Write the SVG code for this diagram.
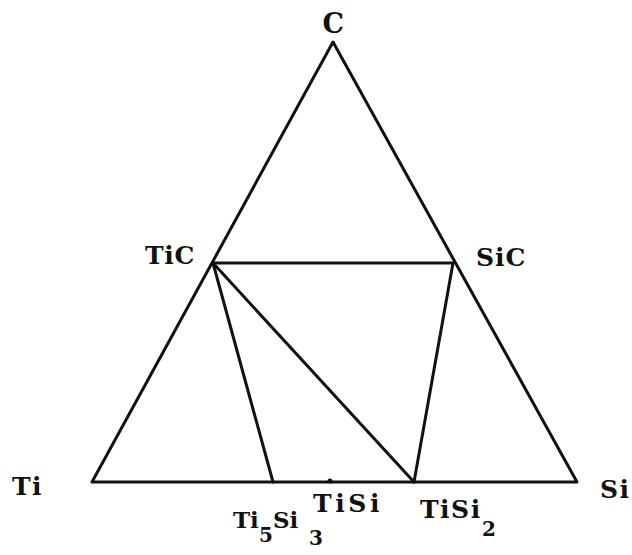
<svg xmlns="http://www.w3.org/2000/svg" width="632" height="555" viewBox="0 0 632 555">
<style>
.ln{stroke:#111;stroke-width:3;fill:none;stroke-linejoin:round;stroke-linecap:round}
.lb{font-family:"DejaVu Serif","Liberation Serif",serif;font-weight:bold;font-size:25px;fill:#111;letter-spacing:1.5px}
.sb{font-size:20px}
</style>
<rect width="632" height="555" fill="#fff"/>
<g id="connectors">
<polygon class="ln" points="92,482 577,482 333,42"/>
<line class="ln" x1="213" y1="263" x2="453" y2="263"/>
<line class="ln" x1="213" y1="263" x2="273" y2="482"/>
<line class="ln" x1="213" y1="263" x2="414" y2="482"/>
<line class="ln" x1="453" y1="263" x2="414" y2="482"/>
</g>
<g id="node-C"><text class="lb" x="334" y="33" text-anchor="middle" style="font-size:27px">C</text></g>
<g id="node-Ti"><text class="lb" x="12" y="495">Ti</text></g>
<g id="node-Si"><text class="lb" x="600" y="498">Si</text></g>
<g id="node-TiC"><text class="lb" x="145" y="264" textLength="51">TiC</text></g>
<g id="node-SiC"><text class="lb" x="476" y="266" textLength="51">SiC</text></g>
<g id="node-TiSi"><circle cx="330" cy="481" r="2.5" fill="#111"/><text class="lb" x="313" y="512" textLength="68">TiSi</text></g>
<g id="node-Ti5Si3"><text class="lb" x="233" y="528" style="font-size:23px;letter-spacing:0">Ti<tspan class="sb" x="259" dy="14">5</tspan><tspan x="273" dy="-14">Si</tspan><tspan class="sb" x="309" dy="17">3</tspan></text></g>
<g id="node-TiSi2"><text class="lb" x="420" y="518">TiSi<tspan class="sb" x="482" dy="18">2</tspan></text></g>
</svg>
